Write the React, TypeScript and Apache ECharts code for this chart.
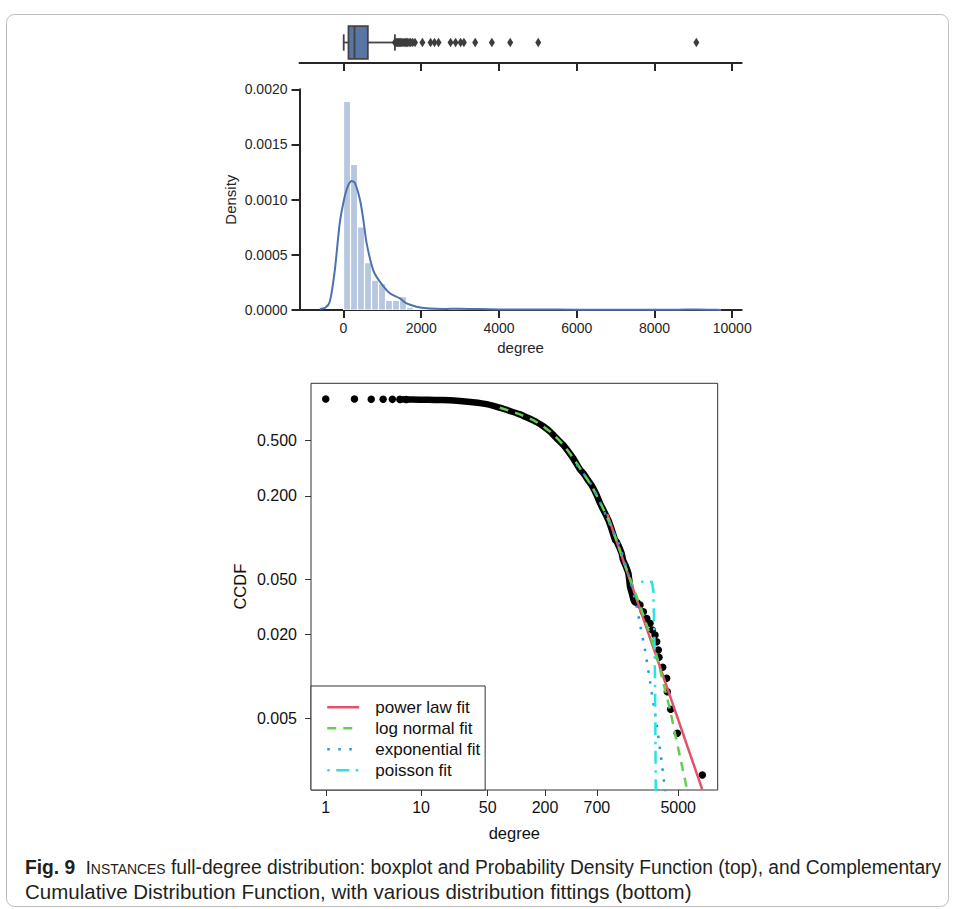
import React, { useEffect, useRef } from 'react';
import * as echarts from 'echarts';

const FONT = "'Liberation Sans', Arial, Helvetica, sans-serif";

// ---------- top panel: boxplot of degree ----------
const boxStats = [5, 128, 283, 626, 1322]; // low whisker, Q1, median, Q3, high whisker
const boxOutliers = [1322, 1345, 1370, 1395, 1420, 1445, 1470, 1500, 1530, 1560, 1590, 1620, 1650, 1690, 1730, 1780, 1840,
  2030, 2240, 2340, 2445, 2754, 2883, 3012, 3097, 3388, 3817, 4289, 5010, 9077];
const degreeTicks = [0, 2000, 4000, 6000, 8000, 10000];

// ---------- middle panel: histogram + KDE ----------
const histStart = 1;
const histWidth = 180;
const histDensity = [0.00189, 0.00132, 0.000754, 0.000428, 0.000271, 0.000238, 0.000087, 0.000087, 0.00012, 0.000026,
  0.000011, 0.000011, 0.000022, 0.000011, 0, 0.000011, 0.000022, 0.000011, 0.000011, 0,
  0, 0.000011, 0, 0.000011, 0, 0, 0, 0.000011, 0, 0,
  0, 0, 0, 0, 0, 0, 0, 0, 0, 0,
  0, 0, 0, 0, 0, 0, 0, 0, 0, 0, 0.000011];
const kdeX = [-611, -470, -353, -224, -95, 33, 120, 214, 295, 425, 510, 596, 764, 935, 1193, 1450, 1623, 1880, 2139, 2600, 3000, 3500, 4000, 5000, 6000, 7000, 8000, 8600, 9077, 9500, 9714];
const kdeY = [0.00001, 0.00002, 0.000075, 0.00036, 0.00079, 0.00103, 0.00113, 0.00117, 0.00115, 0.000997, 0.000816, 0.000604, 0.000362, 0.000257, 0.000151, 0.000106, 0.00006, 0.00003, 0.000015, 0.00001, 0.000012, 0.000008, 0.000005, 0.000004, 0.000003, 0.000002, 0.000002, 0.000003, 0.000004, 0.000002, 0.000001];

// ---------- bottom panel: CCDF with fits ----------
const ccdfTicksX = [1, 10, 50, 200, 700, 5000];
const ccdfTicksY = [0.005, 0.02, 0.05, 0.2, 0.5];
const ccdfDots = [[1, 1.0], [2, 0.998], [3, 0.996], [4, 0.994], [5, 0.993], [6, 0.992], [7, 0.99],
  [1760, 0.0345], [1850, 0.034], [1986, 0.0327], [2151, 0.0293], [2336, 0.0262], [2529, 0.0242], [2673, 0.0216],
  [2853, 0.0199], [2972, 0.0178], [3090, 0.0155], [3141, 0.01375], [3436, 0.01164], [3780, 0.0097], [3840, 0.00777],
  [4169, 0.00581], [4889, 0.0039], [8950, 0.00195]];
const ccdfBand = [[6, 0.994], [8, 0.99], [12, 0.986], [16, 0.982], [22, 0.975], [35, 0.946], [50, 0.914], [67, 0.864],
  [85, 0.82], [109, 0.774], [135, 0.725], [164, 0.679], [195, 0.63], [226, 0.581], [265, 0.52], [311, 0.466], [350, 0.42],
  [396, 0.373], [466, 0.31], [505, 0.291], [560, 0.262], [618, 0.238], [697, 0.203], [756, 0.177], [818, 0.159],
  [924, 0.134], [1000, 0.115], [1086, 0.0964], [1130, 0.0936], [1276, 0.077], [1317, 0.0692], [1400, 0.063],
  [1497, 0.0555], [1530, 0.05], [1560, 0.0444], [1640, 0.039], [1696, 0.0356]];
const powerLawFit = [[900, 0.148], [8950, 0.00153]];
const logNormalFit = [[67, 0.864], [109, 0.774], [164, 0.679], [226, 0.581], [311, 0.466], [396, 0.373], [505, 0.291],
  [618, 0.235], [756, 0.18], [924, 0.134], [1130, 0.095], [1400, 0.062], [1800, 0.039], [2853, 0.0155], [3355, 0.00997],
  [4100, 0.00574], [4625, 0.0039], [5220, 0.00264], [6140, 0.00157], [6300, 0.0014]];
const exponentialFit = [[430, 0.335], [505, 0.291], [618, 0.238], [756, 0.18], [924, 0.132], [1200, 0.0887], [1560, 0.049],
  [1834, 0.0318], [1986, 0.0238], [2240, 0.0155], [2529, 0.00918], [2972, 0.00448], [3297, 0.00264], [3632, 0.00154], [3700, 0.0014]];
const poissonFit = [[2036, 0.0482], [2636, 0.0482], [2737, 0.042], [2805, 0.0216], [2853, 0.00944], [2876, 0.0046], [2904, 0.00152], [2910, 0.0013]];
const fitNames = ['power law fit', 'log normal fit', 'exponential fit', 'poisson fit'];

const captionLine1 = '{b|Fig. 9}  {s|I}{t|NSTANCES} full-degree distribution: boxplot and Probability Density Function (top), and Complementary';
const captionLine2 = 'Cumulative Distribution Function, with various distribution fittings (bottom)';

const SEA = '#262626';
const RCOL = '#333333';

function buildOption(): any {
  const histData = histDensity
    .map((h, i) => [histStart + i * histWidth, histStart + (i + 1) * histWidth, h])
    .filter((d) => d[2] > 0);

  const capFont = { fontFamily: FONT, fontSize: 20, fill: '#231f20' };

  return {
    animation: false,
    backgroundColor: '#ffffff',
    textStyle: { fontFamily: FONT },
    grid: [
      { left: 299.5, top: 22, width: 442.2, height: 41, show: false, outerBoundsMode: 'none' },
      { left: 299.5, top: 89.3, width: 442.2, height: 220.7, show: false, outerBoundsMode: 'none' },
      { left: 311, top: 383.3, width: 406.7, height: 406.7, show: true, borderColor: RCOL, borderWidth: 1, backgroundColor: 'transparent', outerBoundsMode: 'none' },
    ],
    xAxis: [
      {
        gridIndex: 0, type: 'value', min: -1132, max: 10244,
        axisLine: { show: true, onZero: false, lineStyle: { color: SEA, width: 2 } },
        axisTick: { show: true, customValues: degreeTicks, length: 8, lineStyle: { color: SEA, width: 2 } },
        axisLabel: { show: false }, splitLine: { show: false },
      },
      {
        gridIndex: 1, type: 'value', min: -1132, max: 10244,
        axisLine: { show: true, onZero: false, lineStyle: { color: SEA, width: 2 } },
        axisTick: { show: true, customValues: degreeTicks, length: 8, lineStyle: { color: SEA, width: 2 } },
        axisLabel: { show: true, customValues: degreeTicks, formatter: (v: number) => String(Math.round(v)), fontSize: 14, color: SEA, margin: 11, fontFamily: FONT },
        splitLine: { show: false },
        name: 'degree', nameLocation: 'middle', nameGap: 30,
        nameTextStyle: { fontSize: 15, color: SEA, fontFamily: FONT },
      },
      {
        gridIndex: 2, type: 'log', logBase: 10, min: 0.7, max: 12980,
        axisLine: { show: false },
        axisTick: { show: true, customValues: ccdfTicksX, length: 6, lineStyle: { color: RCOL, width: 1 } },
        axisLabel: { show: true, customValues: ccdfTicksX, formatter: (v: number) => String(Math.round(v)), fontSize: 16, color: '#111', margin: 9, fontFamily: FONT },
        splitLine: { show: false }, minorTick: { show: false },
        name: 'degree', nameLocation: 'middle', nameGap: 34,
        nameTextStyle: { fontSize: 16.5, color: '#111', fontFamily: FONT },
      },
    ],
    yAxis: [
      { gridIndex: 0, type: 'category', data: ['degree'], show: false },
      {
        gridIndex: 1, type: 'value', min: 0, max: 0.002, interval: 0.0005,
        axisLine: { show: true, onZero: false, lineStyle: { color: SEA, width: 2 } },
        axisTick: { show: true, length: 8, lineStyle: { color: SEA, width: 2 } },
        axisLabel: { show: true, formatter: (v: number) => v.toFixed(4), fontSize: 14, color: SEA, margin: 12, fontFamily: FONT },
        splitLine: { show: false },
        name: 'Density', nameLocation: 'middle', nameGap: 62, nameRotate: 90,
        nameTextStyle: { fontSize: 15, color: SEA, fontFamily: FONT },
      },
      {
        gridIndex: 2, type: 'log', logBase: 10, min: 0.00152, max: 1.296,
        axisLine: { show: false },
        axisTick: { show: true, customValues: ccdfTicksY, length: 6, lineStyle: { color: RCOL, width: 1 } },
        axisLabel: { show: true, customValues: ccdfTicksY, formatter: (v: number) => v.toFixed(3), fontSize: 16, color: '#111', margin: 14, fontFamily: FONT },
        splitLine: { show: false }, minorTick: { show: false },
        name: 'CCDF', nameLocation: 'middle', nameGap: 63, nameRotate: 90,
        nameTextStyle: { fontSize: 16.5, color: '#111', fontFamily: FONT },
      },
    ],
    legend: {
      show: true,
      data: fitNames,
      orient: 'vertical',
      left: 311, top: 686,
      itemWidth: 32, itemHeight: 17, itemGap: 4,
      padding: [12.8, 5, 11.2, 15],
      borderColor: RCOL, borderWidth: 1, borderRadius: 0,
      backgroundColor: '#ffffff',
      selectedMode: false,
      itemStyle: { opacity: 0 },
      lineStyle: { width: 2.5 },
      textStyle: { fontSize: 17, color: '#111', fontFamily: FONT, padding: [0, 0, 0, 11] },
    },
    graphic: [
      { type: 'rect', z: -10, shape: { x: 6.5, y: 14.5, width: 942, height: 892, r: 8 }, style: { fill: 'none', stroke: '#bdbdbd', lineWidth: 1 } },
      {
        type: 'text', x: 25, y: 866.7, scaleX: 0.96,
        style: {
          ...capFont, text: captionLine1, verticalAlign: 'middle',
          rich: {
            b: { fontFamily: FONT, fontSize: 20, fontWeight: 'bold', fill: '#231f20', verticalAlign: 'bottom' },
            s: { fontFamily: FONT, fontSize: 19, fill: '#231f20', verticalAlign: 'bottom' },
            t: { fontFamily: FONT, fontSize: 14.5, fill: '#231f20', verticalAlign: 'bottom' },
          },
        },
      },
      {
        type: 'text', x: 25, y: 891.7, scaleX: 1.025,
        style: { ...capFont, text: captionLine2, verticalAlign: 'middle' },
      },
    ],
    series: [
      {
        type: 'custom', name: 'box', xAxisIndex: 0, yAxisIndex: 0, silent: true, z: 2,
        encode: { x: [0, 1, 2, 3, 4], y: 5 },
        data: [[...boxStats, 0]],
        renderItem: (params: any, api: any) => {
          const pLo = api.coord([api.value(0), 0]);
          const pQ1 = api.coord([api.value(1), 0]);
          const pMed = api.coord([api.value(2), 0]);
          const pQ3 = api.coord([api.value(3), 0]);
          const pHi = api.coord([api.value(4), 0]);
          const band = api.size([0, 1])[1];
          const h = band * 0.8;
          const yc = pQ1[1];
          const ls = { stroke: '#444444', lineWidth: 1.8 };
          return {
            type: 'group',
            children: [
              { type: 'line', shape: { x1: pLo[0], y1: yc, x2: pQ1[0], y2: yc }, style: ls },
              { type: 'line', shape: { x1: pQ3[0], y1: yc, x2: pHi[0], y2: yc }, style: ls },
              { type: 'line', shape: { x1: pLo[0], y1: yc - h / 4, x2: pLo[0], y2: yc + h / 4 }, style: ls },
              { type: 'line', shape: { x1: pHi[0], y1: yc - h / 4, x2: pHi[0], y2: yc + h / 4 }, style: ls },
              { type: 'rect', shape: { x: pQ1[0], y: yc - h / 2, width: pQ3[0] - pQ1[0], height: h }, style: { fill: '#5875a4', stroke: '#444444', lineWidth: 1.8 } },
              { type: 'line', shape: { x1: pMed[0], y1: yc - h / 2, x2: pMed[0], y2: yc + h / 2 }, style: ls },
            ],
          };
        },
      },
      {
        type: 'scatter', name: 'outliers', xAxisIndex: 0, yAxisIndex: 0, silent: true, z: 3,
        symbol: 'diamond', symbolSize: [6, 9.5],
        itemStyle: { color: '#3d3d3d', opacity: 1 },
        data: boxOutliers.map((v) => [v, 0]),
      },
      {
        type: 'custom', name: 'hist', xAxisIndex: 1, yAxisIndex: 1, silent: true, z: 2, clip: true,
        encode: { x: [0, 1], y: 2 },
        data: histData,
        renderItem: (params: any, api: any) => {
          const p0 = api.coord([api.value(0), 0]);
          const p1 = api.coord([api.value(1), api.value(2)]);
          return {
            type: 'rect',
            shape: { x: p0[0], y: p1[1], width: p1[0] - p0[0], height: p0[1] - p1[1] },
            style: { fill: '#b7c7df', stroke: '#ffffff', lineWidth: 1.2 },
          };
        },
      },
      {
        type: 'line', name: 'kde', xAxisIndex: 1, yAxisIndex: 1, silent: true, z: 3,
        smooth: 0.3, symbol: 'none',
        lineStyle: { color: '#4c72b0', width: 2 },
        data: kdeX.map((x, i) => [x, kdeY[i]]),
      },
      {
        type: 'line', name: 'ccdf band', xAxisIndex: 2, yAxisIndex: 2, silent: true, z: 3,
        symbol: 'none', smooth: 0.2,
        lineStyle: { color: '#000000', width: 6.5, cap: 'round', join: 'round' },
        data: ccdfBand,
      },
      {
        type: 'scatter', name: 'ccdf', xAxisIndex: 2, yAxisIndex: 2, silent: true, z: 3,
        symbol: 'circle', symbolSize: 7.5,
        itemStyle: { color: '#000000', opacity: 1 },
        data: ccdfDots,
      },
      {
        type: 'line', name: fitNames[0], xAxisIndex: 2, yAxisIndex: 2, silent: true, z: 4,
        symbol: 'none', color: '#df536b',
        lineStyle: { color: '#df536b', width: 2.5 },
        data: powerLawFit,
      },
      {
        type: 'line', name: fitNames[1], xAxisIndex: 2, yAxisIndex: 2, silent: true, z: 4,
        symbol: 'none', smooth: 0.3, color: '#61d04f',
        lineStyle: { color: '#61d04f', width: 2.5, type: [9, 7] },
        data: logNormalFit,
      },
      {
        type: 'line', name: fitNames[2], xAxisIndex: 2, yAxisIndex: 2, silent: true, z: 4,
        symbol: 'none', smooth: 0.3, color: '#2297e6',
        lineStyle: { color: '#2297e6', width: 2.5, type: [2.5, 8.5] },
        data: exponentialFit,
      },
      {
        type: 'line', name: fitNames[3], xAxisIndex: 2, yAxisIndex: 2, silent: true, z: 4,
        symbol: 'none', color: '#28e2e5',
        lineStyle: { color: '#28e2e5', width: 2.5, type: [2.5, 6.5, 13, 6.5] },
        data: poissonFit,
      },
    ],
  };
}

export default function App() {
  const ref = useRef<HTMLDivElement>(null);
  useEffect(() => {
    if (!ref.current) return;
    const chart = echarts.init(ref.current, null, { renderer: 'svg', width: 957, height: 909 });
    chart.setOption(buildOption());
    return () => chart.dispose();
  }, []);
  return (
    <div
      ref={ref}
      style={{ position: 'absolute', left: 0, top: 0, width: 957, height: 909, background: '#fff' }}
    />
  );
}
